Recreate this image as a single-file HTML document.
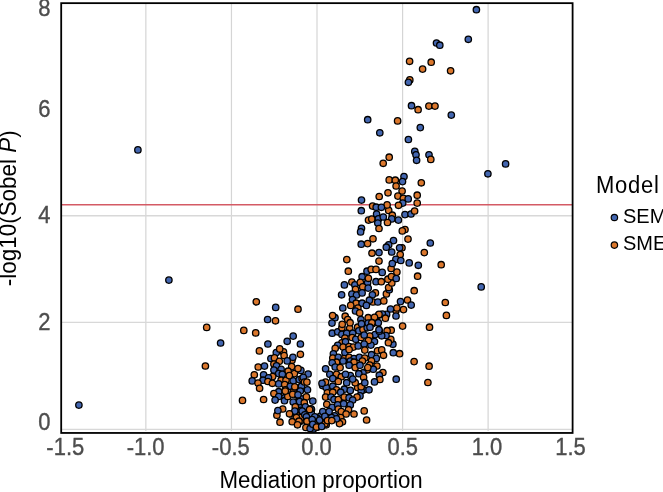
<!DOCTYPE html>
<html><head><meta charset="utf-8"><title>Mediation plot</title>
<style>html,body{margin:0;padding:0;background:#fff;overflow:hidden;}svg{display:block;will-change:transform;font-family:"Liberation Sans",sans-serif;}</style>
</head><body><svg width="663" height="492" viewBox="0 0 663 492" font-family="Liberation Sans, sans-serif"><rect x="0" y="0" width="663" height="492" fill="#fff"/><line x1="145.85" y1="4" x2="145.85" y2="431" stroke="#d5d5d5" stroke-width="1.2"/><line x1="231.45" y1="4" x2="231.45" y2="431" stroke="#d5d5d5" stroke-width="1.2"/><line x1="317.0" y1="4" x2="317.0" y2="431" stroke="#d5d5d5" stroke-width="1.2"/><line x1="402.6" y1="4" x2="402.6" y2="431" stroke="#d5d5d5" stroke-width="1.2"/><line x1="488.1" y1="4" x2="488.1" y2="431" stroke="#d5d5d5" stroke-width="1.2"/><line x1="62" y1="215.7" x2="572" y2="215.7" stroke="#d8d8d8" stroke-width="1.4"/><line x1="62" y1="322.4" x2="572" y2="322.4" stroke="#d8d8d8" stroke-width="1.4"/><line x1="62" y1="429.4" x2="572" y2="429.4" stroke="#d8d8d8" stroke-width="1.4"/><line x1="62" y1="204.75" x2="572" y2="204.75" stroke="#d45a65" stroke-width="1.3"/><g stroke="#000" stroke-width="1.3"><circle cx="137.9" cy="149.9" r="3.2" fill="#4366b0"/><circle cx="168.9" cy="280.1" r="3.2" fill="#4366b0"/><circle cx="206.7" cy="327.4" r="3.2" fill="#db772c"/><circle cx="220.6" cy="343.0" r="3.2" fill="#4366b0"/><circle cx="205.4" cy="366.0" r="3.2" fill="#db772c"/><circle cx="78.9" cy="405.1" r="3.2" fill="#4366b0"/><circle cx="476.4" cy="9.7" r="3.2" fill="#4366b0"/><circle cx="468.3" cy="39.3" r="3.2" fill="#4366b0"/><circle cx="436.5" cy="43.0" r="3.2" fill="#4366b0"/><circle cx="439.8" cy="45.2" r="3.2" fill="#4366b0"/><circle cx="409.6" cy="61.3" r="3.2" fill="#db772c"/><circle cx="431.2" cy="62.2" r="3.2" fill="#db772c"/><circle cx="422.6" cy="69.1" r="3.2" fill="#db772c"/><circle cx="450.6" cy="70.8" r="3.2" fill="#db772c"/><circle cx="409.8" cy="79.9" r="3.2" fill="#db772c"/><circle cx="408.4" cy="82.3" r="3.2" fill="#4366b0"/><circle cx="256.3" cy="301.8" r="3.2" fill="#db772c"/><circle cx="275.7" cy="307.4" r="3.2" fill="#4366b0"/><circle cx="298.0" cy="309.2" r="3.2" fill="#db772c"/><circle cx="267.6" cy="319.5" r="3.2" fill="#4366b0"/><circle cx="275.5" cy="320.8" r="3.2" fill="#db772c"/><circle cx="243.8" cy="330.4" r="3.2" fill="#db772c"/><circle cx="255.7" cy="332.9" r="3.2" fill="#db772c"/><circle cx="293.2" cy="336.1" r="3.2" fill="#4366b0"/><circle cx="287.2" cy="341.3" r="3.2" fill="#4366b0"/><circle cx="267.9" cy="344.0" r="3.2" fill="#4366b0"/><circle cx="300.4" cy="344.0" r="3.2" fill="#4366b0"/><circle cx="259.4" cy="350.9" r="3.2" fill="#db772c"/><circle cx="283.5" cy="351.9" r="3.2" fill="#db772c"/><circle cx="276.3" cy="352.5" r="3.2" fill="#4366b0"/><circle cx="279.7" cy="348.9" r="3.2" fill="#db772c"/><circle cx="284.1" cy="355.5" r="3.2" fill="#db772c"/><circle cx="300.4" cy="354.3" r="3.2" fill="#db772c"/><circle cx="270.9" cy="358.5" r="3.2" fill="#4366b0"/><circle cx="274.5" cy="357.9" r="3.2" fill="#db772c"/><circle cx="292.0" cy="360.3" r="3.2" fill="#db772c"/><circle cx="292.9" cy="357.3" r="3.2" fill="#4366b0"/><circle cx="287.2" cy="360.9" r="3.2" fill="#4366b0"/><circle cx="279.3" cy="361.3" r="3.2" fill="#db772c"/><circle cx="273.9" cy="364.0" r="3.2" fill="#db772c"/><circle cx="276.5" cy="365.8" r="3.2" fill="#4366b0"/><circle cx="258.2" cy="367.0" r="3.2" fill="#db772c"/><circle cx="264.5" cy="366.1" r="3.2" fill="#4366b0"/><circle cx="291.7" cy="366.6" r="3.2" fill="#db772c"/><circle cx="281.1" cy="369.4" r="3.2" fill="#4366b0"/><circle cx="273.9" cy="370.0" r="3.2" fill="#4366b0"/><circle cx="288.1" cy="371.2" r="3.2" fill="#db772c"/><circle cx="294.4" cy="373.6" r="3.2" fill="#db772c"/><circle cx="254.3" cy="374.8" r="3.2" fill="#db772c"/><circle cx="263.6" cy="374.8" r="3.2" fill="#4366b0"/><circle cx="278.7" cy="373.6" r="3.2" fill="#4366b0"/><circle cx="282.3" cy="374.2" r="3.2" fill="#4366b0"/><circle cx="272.7" cy="376.6" r="3.2" fill="#db772c"/><circle cx="268.5" cy="377.8" r="3.2" fill="#4366b0"/><circle cx="252.2" cy="380.9" r="3.2" fill="#4366b0"/><circle cx="263.0" cy="380.2" r="3.2" fill="#4366b0"/><circle cx="267.9" cy="381.5" r="3.2" fill="#db772c"/><circle cx="258.0" cy="383.0" r="3.2" fill="#db772c"/><circle cx="272.4" cy="383.3" r="3.2" fill="#db772c"/><circle cx="281.1" cy="380.2" r="3.2" fill="#db772c"/><circle cx="286.0" cy="380.2" r="3.2" fill="#db772c"/><circle cx="293.2" cy="380.9" r="3.2" fill="#4366b0"/><circle cx="299.2" cy="379.6" r="3.2" fill="#4366b0"/><circle cx="278.7" cy="383.9" r="3.2" fill="#4366b0"/><circle cx="284.7" cy="384.5" r="3.2" fill="#db772c"/><circle cx="290.2" cy="386.3" r="3.2" fill="#4366b0"/><circle cx="259.6" cy="388.3" r="3.2" fill="#db772c"/><circle cx="285.3" cy="389.9" r="3.2" fill="#db772c"/><circle cx="278.7" cy="391.7" r="3.2" fill="#4366b0"/><circle cx="299.2" cy="389.9" r="3.2" fill="#4366b0"/><circle cx="293.2" cy="391.7" r="3.2" fill="#db772c"/><circle cx="273.9" cy="393.5" r="3.2" fill="#db772c"/><circle cx="242.5" cy="400.4" r="3.2" fill="#db772c"/><circle cx="263.6" cy="399.5" r="3.2" fill="#db772c"/><circle cx="278.7" cy="396.5" r="3.2" fill="#4366b0"/><circle cx="284.7" cy="397.7" r="3.2" fill="#4366b0"/><circle cx="275.1" cy="400.1" r="3.2" fill="#4366b0"/><circle cx="284.5" cy="400.7" r="3.2" fill="#4366b0"/><circle cx="287.8" cy="396.5" r="3.2" fill="#db772c"/><circle cx="299.8" cy="399.5" r="3.2" fill="#4366b0"/><circle cx="276.9" cy="415.2" r="3.2" fill="#db772c"/><circle cx="300.4" cy="421.2" r="3.2" fill="#db772c"/><circle cx="294.8" cy="386.8" r="3.2" fill="#db772c"/><circle cx="301.5" cy="386.2" r="3.2" fill="#4366b0"/><circle cx="307.5" cy="389.8" r="3.2" fill="#4366b0"/><circle cx="300.3" cy="391.0" r="3.2" fill="#4366b0"/><circle cx="297.2" cy="395.3" r="3.2" fill="#4366b0"/><circle cx="301.5" cy="398.9" r="3.2" fill="#4366b0"/><circle cx="300.3" cy="404.9" r="3.2" fill="#4366b0"/><circle cx="300.9" cy="410.3" r="3.2" fill="#4366b0"/><circle cx="311.5" cy="409.6" r="3.2" fill="#4366b0"/><circle cx="291.2" cy="414.0" r="3.2" fill="#db772c"/><circle cx="296.6" cy="415.2" r="3.2" fill="#db772c"/><circle cx="304.5" cy="413.4" r="3.2" fill="#4366b0"/><circle cx="300.9" cy="417.6" r="3.2" fill="#db772c"/><circle cx="310.5" cy="426.6" r="3.2" fill="#4366b0"/><circle cx="316.5" cy="426.0" r="3.2" fill="#db772c"/><circle cx="317.1" cy="427.2" r="3.2" fill="#4366b0"/><circle cx="322.6" cy="385.6" r="3.2" fill="#4366b0"/><circle cx="326.2" cy="387.4" r="3.2" fill="#4366b0"/><circle cx="332.8" cy="386.2" r="3.2" fill="#4366b0"/><circle cx="336.5" cy="389.8" r="3.2" fill="#db772c"/><circle cx="344.3" cy="389.2" r="3.2" fill="#4366b0"/><circle cx="350.3" cy="390.4" r="3.2" fill="#4366b0"/><circle cx="357.6" cy="387.4" r="3.2" fill="#db772c"/><circle cx="363.6" cy="389.8" r="3.2" fill="#4366b0"/><circle cx="369.0" cy="389.8" r="3.2" fill="#4366b0"/><circle cx="327.4" cy="392.8" r="3.2" fill="#db772c"/><circle cx="332.8" cy="392.2" r="3.2" fill="#db772c"/><circle cx="340.7" cy="392.2" r="3.2" fill="#4366b0"/><circle cx="361.2" cy="391.0" r="3.2" fill="#4366b0"/><circle cx="360.0" cy="395.9" r="3.2" fill="#4366b0"/><circle cx="357.0" cy="397.1" r="3.2" fill="#db772c"/><circle cx="325.6" cy="397.1" r="3.2" fill="#db772c"/><circle cx="331.0" cy="397.1" r="3.2" fill="#4366b0"/><circle cx="334.0" cy="399.5" r="3.2" fill="#4366b0"/><circle cx="338.3" cy="399.5" r="3.2" fill="#db772c"/><circle cx="344.3" cy="397.1" r="3.2" fill="#db772c"/><circle cx="349.1" cy="397.7" r="3.2" fill="#4366b0"/><circle cx="352.7" cy="400.1" r="3.2" fill="#4366b0"/><circle cx="326.8" cy="404.3" r="3.2" fill="#db772c"/><circle cx="332.2" cy="407.3" r="3.2" fill="#4366b0"/><circle cx="337.7" cy="404.9" r="3.2" fill="#4366b0"/><circle cx="343.7" cy="403.7" r="3.2" fill="#4366b0"/><circle cx="350.3" cy="404.9" r="3.2" fill="#4366b0"/><circle cx="338.3" cy="409.1" r="3.2" fill="#db772c"/><circle cx="341.3" cy="411.5" r="3.2" fill="#db772c"/><circle cx="348.5" cy="409.7" r="3.2" fill="#db772c"/><circle cx="346.1" cy="414.0" r="3.2" fill="#db772c"/><circle cx="354.0" cy="414.0" r="3.2" fill="#db772c"/><circle cx="364.2" cy="410.9" r="3.2" fill="#db772c"/><circle cx="366.6" cy="420.0" r="3.2" fill="#db772c"/><circle cx="334.6" cy="415.8" r="3.2" fill="#4366b0"/><circle cx="340.7" cy="417.6" r="3.2" fill="#db772c"/><circle cx="320.5" cy="416.0" r="3.2" fill="#4366b0"/><circle cx="325.6" cy="415.8" r="3.2" fill="#4366b0"/><circle cx="331.6" cy="417.6" r="3.2" fill="#4366b0"/><circle cx="342.5" cy="421.8" r="3.2" fill="#db772c"/><circle cx="339.5" cy="423.6" r="3.2" fill="#db772c"/><circle cx="336.5" cy="418.8" r="3.2" fill="#4366b0"/><circle cx="326.2" cy="424.8" r="3.2" fill="#db772c"/><circle cx="414.1" cy="361.6" r="3.2" fill="#db772c"/><circle cx="429.1" cy="366.2" r="3.2" fill="#db772c"/><circle cx="427.9" cy="382.5" r="3.2" fill="#db772c"/><circle cx="396.2" cy="379.2" r="3.2" fill="#4366b0"/><circle cx="399.6" cy="353.7" r="3.2" fill="#db772c"/><circle cx="393.3" cy="352.7" r="3.2" fill="#4366b0"/><circle cx="392.9" cy="344.2" r="3.2" fill="#4366b0"/><circle cx="390.8" cy="339.4" r="3.2" fill="#db772c"/><circle cx="388.4" cy="342.7" r="3.2" fill="#db772c"/><circle cx="391.2" cy="330.2" r="3.2" fill="#db772c"/><circle cx="387.1" cy="330.7" r="3.2" fill="#db772c"/><circle cx="386.0" cy="335.5" r="3.2" fill="#4366b0"/><circle cx="381.7" cy="335.8" r="3.2" fill="#4366b0"/><circle cx="375.1" cy="334.6" r="3.2" fill="#4366b0"/><circle cx="379.3" cy="331.2" r="3.2" fill="#4366b0"/><circle cx="369.7" cy="336.0" r="3.2" fill="#db772c"/><circle cx="374.5" cy="341.5" r="3.2" fill="#4366b0"/><circle cx="370.9" cy="345.1" r="3.2" fill="#4366b0"/><circle cx="362.4" cy="331.2" r="3.2" fill="#db772c"/><circle cx="377.5" cy="350.8" r="3.2" fill="#db772c"/><circle cx="381.7" cy="349.9" r="3.2" fill="#db772c"/><circle cx="383.5" cy="355.3" r="3.2" fill="#db772c"/><circle cx="371.5" cy="354.7" r="3.2" fill="#4366b0"/><circle cx="376.3" cy="358.4" r="3.2" fill="#4366b0"/><circle cx="371.5" cy="360.8" r="3.2" fill="#db772c"/><circle cx="369.7" cy="365.0" r="3.2" fill="#db772c"/><circle cx="376.9" cy="366.0" r="3.2" fill="#db772c"/><circle cx="373.3" cy="369.2" r="3.2" fill="#4366b0"/><circle cx="367.2" cy="369.8" r="3.2" fill="#db772c"/><circle cx="382.9" cy="372.5" r="3.2" fill="#db772c"/><circle cx="379.3" cy="375.2" r="3.2" fill="#4366b0"/><circle cx="379.9" cy="379.5" r="3.2" fill="#db772c"/><circle cx="374.5" cy="381.9" r="3.2" fill="#4366b0"/><circle cx="363.0" cy="372.8" r="3.2" fill="#4366b0"/><circle cx="361.2" cy="386.7" r="3.2" fill="#db772c"/><circle cx="300.9" cy="370.4" r="3.2" fill="#4366b0"/><circle cx="298.0" cy="368.6" r="3.2" fill="#db772c"/><circle cx="289.3" cy="375.6" r="3.2" fill="#db772c"/><circle cx="308.1" cy="374.0" r="3.2" fill="#4366b0"/><circle cx="302.1" cy="378.5" r="3.2" fill="#db772c"/><circle cx="303.3" cy="377.3" r="3.2" fill="#4366b0"/><circle cx="304.5" cy="382.0" r="3.2" fill="#db772c"/><circle cx="306.9" cy="382.1" r="3.2" fill="#db772c"/><circle cx="332.2" cy="333.2" r="3.2" fill="#4366b0"/><circle cx="337.7" cy="331.8" r="3.2" fill="#4366b0"/><circle cx="341.9" cy="327.8" r="3.2" fill="#db772c"/><circle cx="349.7" cy="328.4" r="3.2" fill="#db772c"/><circle cx="357.6" cy="327.2" r="3.2" fill="#db772c"/><circle cx="358.8" cy="330.8" r="3.2" fill="#4366b0"/><circle cx="363.0" cy="329.6" r="3.2" fill="#db772c"/><circle cx="367.2" cy="327.8" r="3.2" fill="#4366b0"/><circle cx="341.9" cy="334.4" r="3.2" fill="#4366b0"/><circle cx="346.7" cy="333.2" r="3.2" fill="#4366b0"/><circle cx="352.7" cy="333.2" r="3.2" fill="#4366b0"/><circle cx="352.1" cy="337.5" r="3.2" fill="#db772c"/><circle cx="355.8" cy="339.3" r="3.2" fill="#4366b0"/><circle cx="361.2" cy="337.5" r="3.2" fill="#db772c"/><circle cx="364.2" cy="335.0" r="3.2" fill="#4366b0"/><circle cx="368.4" cy="340.5" r="3.2" fill="#db772c"/><circle cx="344.9" cy="338.1" r="3.2" fill="#db772c"/><circle cx="341.9" cy="342.9" r="3.2" fill="#db772c"/><circle cx="345.5" cy="341.7" r="3.2" fill="#4366b0"/><circle cx="337.7" cy="345.3" r="3.2" fill="#4366b0"/><circle cx="335.2" cy="348.3" r="3.2" fill="#db772c"/><circle cx="343.1" cy="347.1" r="3.2" fill="#db772c"/><circle cx="349.1" cy="346.5" r="3.2" fill="#db772c"/><circle cx="353.3" cy="347.1" r="3.2" fill="#db772c"/><circle cx="358.2" cy="345.9" r="3.2" fill="#4366b0"/><circle cx="364.2" cy="344.1" r="3.2" fill="#4366b0"/><circle cx="364.8" cy="350.1" r="3.2" fill="#db772c"/><circle cx="344.9" cy="352.5" r="3.2" fill="#4366b0"/><circle cx="333.4" cy="353.8" r="3.2" fill="#4366b0"/><circle cx="349.1" cy="349.5" r="3.2" fill="#db772c"/><circle cx="332.8" cy="358.0" r="3.2" fill="#db772c"/><circle cx="338.3" cy="357.4" r="3.2" fill="#4366b0"/><circle cx="344.3" cy="358.6" r="3.2" fill="#db772c"/><circle cx="349.1" cy="357.4" r="3.2" fill="#db772c"/><circle cx="354.0" cy="358.6" r="3.2" fill="#4366b0"/><circle cx="359.4" cy="357.4" r="3.2" fill="#4366b0"/><circle cx="364.8" cy="358.0" r="3.2" fill="#db772c"/><circle cx="336.5" cy="362.2" r="3.2" fill="#db772c"/><circle cx="332.2" cy="362.8" r="3.2" fill="#4366b0"/><circle cx="343.1" cy="361.0" r="3.2" fill="#4366b0"/><circle cx="350.3" cy="361.0" r="3.2" fill="#4366b0"/><circle cx="362.4" cy="361.0" r="3.2" fill="#db772c"/><circle cx="354.0" cy="362.2" r="3.2" fill="#db772c"/><circle cx="325.6" cy="368.8" r="3.2" fill="#4366b0"/><circle cx="335.2" cy="367.0" r="3.2" fill="#4366b0"/><circle cx="340.1" cy="367.6" r="3.2" fill="#db772c"/><circle cx="349.1" cy="365.2" r="3.2" fill="#4366b0"/><circle cx="355.2" cy="367.6" r="3.2" fill="#db772c"/><circle cx="360.0" cy="365.2" r="3.2" fill="#4366b0"/><circle cx="367.8" cy="367.6" r="3.2" fill="#db772c"/><circle cx="329.8" cy="374.3" r="3.2" fill="#4366b0"/><circle cx="336.5" cy="374.3" r="3.2" fill="#db772c"/><circle cx="341.3" cy="376.7" r="3.2" fill="#db772c"/><circle cx="350.3" cy="375.5" r="3.2" fill="#4366b0"/><circle cx="358.8" cy="373.7" r="3.2" fill="#4366b0"/><circle cx="363.6" cy="377.3" r="3.2" fill="#db772c"/><circle cx="332.8" cy="378.5" r="3.2" fill="#4366b0"/><circle cx="345.5" cy="374.3" r="3.2" fill="#4366b0"/><circle cx="325.6" cy="382.1" r="3.2" fill="#db772c"/><circle cx="322.0" cy="383.3" r="3.2" fill="#4366b0"/><circle cx="338.3" cy="381.5" r="3.2" fill="#db772c"/><circle cx="346.7" cy="382.7" r="3.2" fill="#4366b0"/><circle cx="355.2" cy="382.7" r="3.2" fill="#db772c"/><circle cx="364.8" cy="382.7" r="3.2" fill="#4366b0"/><circle cx="352.7" cy="379.1" r="3.2" fill="#4366b0"/><circle cx="348.3" cy="271.2" r="3.2" fill="#db772c"/><circle cx="367.0" cy="271.2" r="3.2" fill="#4366b0"/><circle cx="371.2" cy="269.4" r="3.2" fill="#db772c"/><circle cx="376.0" cy="269.4" r="3.2" fill="#db772c"/><circle cx="362.1" cy="276.7" r="3.2" fill="#4366b0"/><circle cx="351.9" cy="282.1" r="3.2" fill="#db772c"/><circle cx="354.9" cy="284.9" r="3.2" fill="#4366b0"/><circle cx="360.3" cy="282.4" r="3.2" fill="#db772c"/><circle cx="367.6" cy="282.7" r="3.2" fill="#4366b0"/><circle cx="368.4" cy="278.3" r="3.2" fill="#db772c"/><circle cx="376.0" cy="281.7" r="3.2" fill="#4366b0"/><circle cx="344.4" cy="284.9" r="3.2" fill="#4366b0"/><circle cx="355.5" cy="289.3" r="3.2" fill="#db772c"/><circle cx="362.7" cy="286.9" r="3.2" fill="#db772c"/><circle cx="368.2" cy="288.1" r="3.2" fill="#4366b0"/><circle cx="341.6" cy="294.8" r="3.2" fill="#4366b0"/><circle cx="351.9" cy="294.1" r="3.2" fill="#4366b0"/><circle cx="356.5" cy="295.0" r="3.2" fill="#4366b0"/><circle cx="362.1" cy="292.9" r="3.2" fill="#4366b0"/><circle cx="375.4" cy="292.9" r="3.2" fill="#db772c"/><circle cx="372.4" cy="294.8" r="3.2" fill="#4366b0"/><circle cx="373.0" cy="302.0" r="3.2" fill="#db772c"/><circle cx="352.5" cy="299.6" r="3.2" fill="#4366b0"/><circle cx="369.4" cy="300.2" r="3.2" fill="#4366b0"/><circle cx="377.8" cy="302.0" r="3.2" fill="#4366b0"/><circle cx="356.1" cy="303.2" r="3.2" fill="#db772c"/><circle cx="350.7" cy="305.4" r="3.2" fill="#db772c"/><circle cx="362.1" cy="303.2" r="3.2" fill="#4366b0"/><circle cx="366.4" cy="305.4" r="3.2" fill="#4366b0"/><circle cx="342.8" cy="308.0" r="3.2" fill="#4366b0"/><circle cx="357.9" cy="308.0" r="3.2" fill="#db772c"/><circle cx="355.5" cy="311.0" r="3.2" fill="#4366b0"/><circle cx="359.7" cy="312.9" r="3.2" fill="#db772c"/><circle cx="335.0" cy="317.7" r="3.2" fill="#4366b0"/><circle cx="332.6" cy="315.6" r="3.2" fill="#db772c"/><circle cx="345.2" cy="316.2" r="3.2" fill="#db772c"/><circle cx="347.7" cy="319.5" r="3.2" fill="#db772c"/><circle cx="332.0" cy="323.1" r="3.2" fill="#4366b0"/><circle cx="342.2" cy="324.3" r="3.2" fill="#db772c"/><circle cx="350.1" cy="322.7" r="3.2" fill="#db772c"/><circle cx="360.9" cy="319.5" r="3.2" fill="#4366b0"/><circle cx="368.2" cy="317.7" r="3.2" fill="#db772c"/><circle cx="378.4" cy="315.3" r="3.2" fill="#4366b0"/><circle cx="361.5" cy="323.7" r="3.2" fill="#4366b0"/><circle cx="368.2" cy="323.1" r="3.2" fill="#4366b0"/><circle cx="372.4" cy="323.7" r="3.2" fill="#db772c"/><circle cx="417.6" cy="276.2" r="3.2" fill="#db772c"/><circle cx="414.2" cy="290.7" r="3.2" fill="#db772c"/><circle cx="445.3" cy="302.5" r="3.2" fill="#db772c"/><circle cx="446.4" cy="315.4" r="3.2" fill="#db772c"/><circle cx="407.5" cy="300.0" r="3.2" fill="#db772c"/><circle cx="400.5" cy="301.6" r="3.2" fill="#4366b0"/><circle cx="411.2" cy="305.1" r="3.2" fill="#4366b0"/><circle cx="403.5" cy="309.6" r="3.2" fill="#db772c"/><circle cx="396.0" cy="310.5" r="3.2" fill="#db772c"/><circle cx="390.5" cy="309.0" r="3.2" fill="#4366b0"/><circle cx="396.9" cy="308.0" r="3.2" fill="#db772c"/><circle cx="396.0" cy="316.0" r="3.2" fill="#4366b0"/><circle cx="386.6" cy="314.4" r="3.2" fill="#4366b0"/><circle cx="382.4" cy="314.1" r="3.2" fill="#4366b0"/><circle cx="379.0" cy="314.4" r="3.2" fill="#db772c"/><circle cx="385.4" cy="318.2" r="3.2" fill="#db772c"/><circle cx="374.5" cy="317.3" r="3.2" fill="#db772c"/><circle cx="378.3" cy="322.7" r="3.2" fill="#4366b0"/><circle cx="371.9" cy="322.7" r="3.2" fill="#db772c"/><circle cx="402.6" cy="326.1" r="3.2" fill="#db772c"/><circle cx="429.5" cy="327.2" r="3.2" fill="#db772c"/><circle cx="379.0" cy="329.7" r="3.2" fill="#4366b0"/><circle cx="370.0" cy="327.2" r="3.2" fill="#4366b0"/><circle cx="383.8" cy="300.9" r="3.2" fill="#db772c"/><circle cx="386.4" cy="293.9" r="3.2" fill="#db772c"/><circle cx="389.3" cy="289.8" r="3.2" fill="#4366b0"/><circle cx="388.6" cy="287.5" r="3.2" fill="#db772c"/><circle cx="391.8" cy="283.0" r="3.2" fill="#db772c"/><circle cx="381.3" cy="281.7" r="3.2" fill="#db772c"/><circle cx="387.9" cy="279.2" r="3.2" fill="#db772c"/><circle cx="391.5" cy="276.6" r="3.2" fill="#db772c"/><circle cx="396.2" cy="278.5" r="3.2" fill="#4366b0"/><circle cx="396.9" cy="272.1" r="3.2" fill="#db772c"/><circle cx="382.2" cy="272.4" r="3.2" fill="#4366b0"/><circle cx="391.1" cy="268.5" r="3.2" fill="#db772c"/><circle cx="361.3" cy="210.7" r="3.2" fill="#4366b0"/><circle cx="368.5" cy="220.1" r="3.2" fill="#db772c"/><circle cx="371.8" cy="219.1" r="3.2" fill="#db772c"/><circle cx="376.6" cy="214.0" r="3.2" fill="#4366b0"/><circle cx="378.4" cy="218.9" r="3.2" fill="#4366b0"/><circle cx="377.8" cy="223.1" r="3.2" fill="#4366b0"/><circle cx="379.0" cy="228.5" r="3.2" fill="#db772c"/><circle cx="361.5" cy="228.3" r="3.2" fill="#4366b0"/><circle cx="360.6" cy="231.9" r="3.2" fill="#4366b0"/><circle cx="373.0" cy="238.8" r="3.2" fill="#db772c"/><circle cx="367.6" cy="243.6" r="3.2" fill="#db772c"/><circle cx="361.2" cy="244.2" r="3.2" fill="#4366b0"/><circle cx="372.0" cy="253.2" r="3.2" fill="#db772c"/><circle cx="379.0" cy="252.6" r="3.2" fill="#4366b0"/><circle cx="346.8" cy="259.6" r="3.2" fill="#db772c"/><circle cx="379.0" cy="261.1" r="3.2" fill="#db772c"/><circle cx="388.7" cy="210.4" r="3.2" fill="#db772c"/><circle cx="392.3" cy="215.2" r="3.2" fill="#db772c"/><circle cx="383.3" cy="217.0" r="3.2" fill="#4366b0"/><circle cx="391.7" cy="218.9" r="3.2" fill="#4366b0"/><circle cx="398.4" cy="220.1" r="3.2" fill="#4366b0"/><circle cx="387.5" cy="222.5" r="3.2" fill="#db772c"/><circle cx="405.0" cy="229.5" r="3.2" fill="#db772c"/><circle cx="402.3" cy="230.9" r="3.2" fill="#db772c"/><circle cx="405.0" cy="214.6" r="3.2" fill="#4366b0"/><circle cx="411.0" cy="214.0" r="3.2" fill="#4366b0"/><circle cx="414.6" cy="211.0" r="3.2" fill="#db772c"/><circle cx="393.5" cy="240.6" r="3.2" fill="#4366b0"/><circle cx="388.7" cy="244.8" r="3.2" fill="#4366b0"/><circle cx="386.3" cy="247.2" r="3.2" fill="#4366b0"/><circle cx="408.0" cy="239.1" r="3.2" fill="#db772c"/><circle cx="430.3" cy="243.0" r="3.2" fill="#4366b0"/><circle cx="402.0" cy="247.8" r="3.2" fill="#db772c"/><circle cx="399.6" cy="247.8" r="3.2" fill="#4366b0"/><circle cx="391.7" cy="252.0" r="3.2" fill="#4366b0"/><circle cx="400.2" cy="254.5" r="3.2" fill="#db772c"/><circle cx="424.3" cy="252.6" r="3.2" fill="#db772c"/><circle cx="395.9" cy="259.3" r="3.2" fill="#4366b0"/><circle cx="400.8" cy="260.5" r="3.2" fill="#4366b0"/><circle cx="392.3" cy="263.5" r="3.2" fill="#4366b0"/><circle cx="409.2" cy="262.9" r="3.2" fill="#4366b0"/><circle cx="418.3" cy="265.3" r="3.2" fill="#4366b0"/><circle cx="441.2" cy="264.7" r="3.2" fill="#db772c"/><circle cx="389.2" cy="157.2" r="3.2" fill="#db772c"/><circle cx="383.2" cy="163.3" r="3.2" fill="#db772c"/><circle cx="414.8" cy="151.4" r="3.2" fill="#4366b0"/><circle cx="416.0" cy="154.8" r="3.2" fill="#4366b0"/><circle cx="416.6" cy="160.3" r="3.2" fill="#4366b0"/><circle cx="404.0" cy="176.5" r="3.2" fill="#4366b0"/><circle cx="402.5" cy="181.6" r="3.2" fill="#4366b0"/><circle cx="389.2" cy="179.9" r="3.2" fill="#db772c"/><circle cx="395.3" cy="180.2" r="3.2" fill="#db772c"/><circle cx="396.1" cy="186.0" r="3.2" fill="#db772c"/><circle cx="421.3" cy="182.8" r="3.2" fill="#db772c"/><circle cx="402.1" cy="191.0" r="3.2" fill="#db772c"/><circle cx="388.0" cy="192.8" r="3.2" fill="#db772c"/><circle cx="379.2" cy="196.5" r="3.2" fill="#db772c"/><circle cx="397.9" cy="196.1" r="3.2" fill="#db772c"/><circle cx="403.3" cy="198.3" r="3.2" fill="#db772c"/><circle cx="408.2" cy="198.9" r="3.2" fill="#4366b0"/><circle cx="417.2" cy="195.2" r="3.2" fill="#db772c"/><circle cx="361.5" cy="200.1" r="3.2" fill="#4366b0"/><circle cx="402.7" cy="203.1" r="3.2" fill="#4366b0"/><circle cx="398.5" cy="205.3" r="3.2" fill="#db772c"/><circle cx="417.2" cy="203.1" r="3.2" fill="#db772c"/><circle cx="372.6" cy="206.1" r="3.2" fill="#db772c"/><circle cx="387.1" cy="204.9" r="3.2" fill="#db772c"/><circle cx="376.2" cy="207.2" r="3.2" fill="#4366b0"/><circle cx="381.4" cy="207.3" r="3.2" fill="#4366b0"/><circle cx="429.0" cy="154.8" r="3.2" fill="#4366b0"/><circle cx="430.8" cy="159.4" r="3.2" fill="#db772c"/><circle cx="481.2" cy="286.9" r="3.2" fill="#4366b0"/><circle cx="411.5" cy="105.7" r="3.2" fill="#4366b0"/><circle cx="418.1" cy="109.7" r="3.2" fill="#db772c"/><circle cx="428.9" cy="106.1" r="3.2" fill="#db772c"/><circle cx="435.0" cy="106.1" r="3.2" fill="#db772c"/><circle cx="367.7" cy="119.7" r="3.2" fill="#4366b0"/><circle cx="397.6" cy="120.9" r="3.2" fill="#db772c"/><circle cx="420.3" cy="127.6" r="3.2" fill="#4366b0"/><circle cx="379.8" cy="132.8" r="3.2" fill="#4366b0"/><circle cx="408.4" cy="139.5" r="3.2" fill="#4366b0"/><circle cx="451.3" cy="115.1" r="3.2" fill="#4366b0"/><circle cx="505.6" cy="163.9" r="3.2" fill="#4366b0"/><circle cx="487.9" cy="173.8" r="3.2" fill="#4366b0"/><circle cx="303.4" cy="411.3" r="3.2" fill="#4366b0"/><circle cx="311.4" cy="413.5" r="3.2" fill="#4366b0"/><circle cx="313.4" cy="429.0" r="3.2" fill="#4366b0"/><circle cx="324.5" cy="417.2" r="3.2" fill="#db772c"/><circle cx="325.0" cy="423.8" r="3.2" fill="#db772c"/><circle cx="308.0" cy="426.0" r="3.2" fill="#4366b0"/><circle cx="317.0" cy="418.0" r="3.2" fill="#4366b0"/><circle cx="314.8" cy="416.8" r="3.2" fill="#4366b0"/><circle cx="285.3" cy="391.1" r="3.2" fill="#db772c"/><circle cx="292.7" cy="394.2" r="3.2" fill="#db772c"/><circle cx="298.0" cy="394.8" r="3.2" fill="#4366b0"/><circle cx="306.4" cy="396.9" r="3.2" fill="#db772c"/><circle cx="293.2" cy="402.1" r="3.2" fill="#4366b0"/><circle cx="299.6" cy="401.6" r="3.2" fill="#4366b0"/><circle cx="304.3" cy="402.7" r="3.2" fill="#db772c"/><circle cx="312.8" cy="401.1" r="3.2" fill="#4366b0"/><circle cx="295.3" cy="406.9" r="3.2" fill="#db772c"/><circle cx="305.4" cy="406.9" r="3.2" fill="#4366b0"/><circle cx="311.0" cy="408.8" r="3.2" fill="#4366b0"/><circle cx="309.6" cy="409.5" r="3.2" fill="#db772c"/><circle cx="282.7" cy="409.0" r="3.2" fill="#db772c"/><circle cx="277.9" cy="410.6" r="3.2" fill="#4366b0"/><circle cx="294.8" cy="411.1" r="3.2" fill="#4366b0"/><circle cx="289.5" cy="413.8" r="3.2" fill="#db772c"/><circle cx="302.2" cy="411.1" r="3.2" fill="#4366b0"/><circle cx="304.8" cy="414.8" r="3.2" fill="#4366b0"/><circle cx="296.4" cy="417.5" r="3.2" fill="#db772c"/><circle cx="306.4" cy="416.9" r="3.2" fill="#4366b0"/><circle cx="292.2" cy="421.7" r="3.2" fill="#db772c"/><circle cx="280.0" cy="422.2" r="3.2" fill="#db772c"/><circle cx="299.0" cy="421.2" r="3.2" fill="#db772c"/><circle cx="307.0" cy="421.2" r="3.2" fill="#db772c"/><circle cx="312.2" cy="419.6" r="3.2" fill="#4366b0"/><circle cx="297.5" cy="424.8" r="3.2" fill="#db772c"/><circle cx="305.9" cy="427.5" r="3.2" fill="#db772c"/><circle cx="310.1" cy="428.5" r="3.2" fill="#4366b0"/><circle cx="312.8" cy="424.3" r="3.2" fill="#4366b0"/><circle cx="319.6" cy="420.1" r="3.2" fill="#4366b0"/><circle cx="316.5" cy="427.0" r="3.2" fill="#db772c"/><circle cx="321.7" cy="426.4" r="3.2" fill="#4366b0"/><circle cx="322.8" cy="411.6" r="3.2" fill="#4366b0"/><circle cx="329.1" cy="411.6" r="3.2" fill="#4366b0"/><circle cx="324.9" cy="416.4" r="3.2" fill="#4366b0"/><circle cx="327.5" cy="420.6" r="3.2" fill="#db772c"/><circle cx="331.8" cy="420.6" r="3.2" fill="#db772c"/></g><rect x="61.2" y="3.15" width="511.4" height="429.8" fill="none" stroke="#000" stroke-width="1.8"/><g fill="#4d4d4d" stroke="#4d4d4d" stroke-width="0.35" font-size="22"><text transform="translate(50.4,16.2) scale(1,1.11)" text-anchor="end">8</text><text transform="translate(50.4,116.5) scale(1,1.11)" text-anchor="end">6</text><text transform="translate(50.4,222.9) scale(1,1.11)" text-anchor="end">4</text><text transform="translate(50.4,330.0) scale(1,1.11)" text-anchor="end">2</text><text transform="translate(50.4,430.0) scale(1,1.11)" text-anchor="end">0</text><text transform="translate(65.3,455.1) scale(1,1.11)" text-anchor="middle">-1.5</text><text transform="translate(145.6,455.1) scale(1,1.11)" text-anchor="middle">-1.0</text><text transform="translate(230.8,455.1) scale(1,1.11)" text-anchor="middle">-0.5</text><text transform="translate(316.45,455.1) scale(1,1.11)" text-anchor="middle">0.0</text><text transform="translate(402.7,455.1) scale(1,1.11)" text-anchor="middle">0.5</text><text transform="translate(487.0,455.1) scale(1,1.11)" text-anchor="middle">1.0</text><text transform="translate(570.5,455.1) scale(1,1.11)" text-anchor="middle">1.5</text></g><text transform="translate(219.5,487.5) scale(1,1.063)" font-size="22.3" fill="#000">Mediation proportion</text><text transform="translate(15.95,208.25) rotate(-90) scale(1,1.09)" text-anchor="middle" font-size="22.43" fill="#000">-log10(Sobel <tspan font-style="italic">P</tspan>)</text><text transform="translate(595.9,192.8) scale(1,1.06)" font-size="22" letter-spacing="0.75" fill="#000">Model</text><circle cx="614.4" cy="217.5" r="3.2" fill="#4366b0" stroke="#000" stroke-width="1.2"/><circle cx="614.4" cy="245.1" r="3.2" fill="#db772c" stroke="#000" stroke-width="1.2"/><text x="623.0" y="222.8" font-size="20" fill="#000">SEM</text><text x="623.0" y="249.7" font-size="20" fill="#000">SME</text></svg></body></html>
